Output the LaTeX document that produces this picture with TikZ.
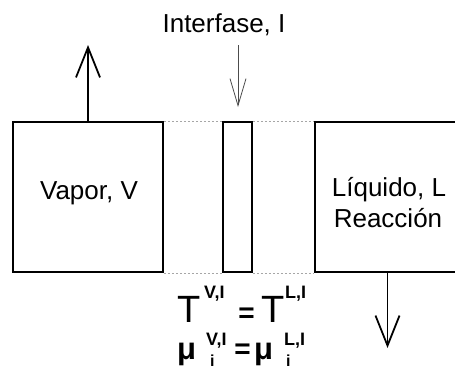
\documentclass[tikz,border=0pt]{standalone}
\usepackage{fontspec}
\setmainfont{Liberation Sans}
\usetikzlibrary{arrows.meta}
\begin{document}
\begin{tikzpicture}[x=1pt,y=-1pt,
  box/.style={draw=black,line width=1.8pt,minimum height=150pt,inner sep=0pt,anchor=center},
  lbl/.style={font=\fontsize{26}{26}\selectfont,anchor=base,inner sep=0pt},
  big/.style={font=\fontsize{38}{38}\selectfont,anchor=base west,inner sep=0pt},
  mu/.style={font=\fontsize{31}{31}\selectfont\bfseries,anchor=base west,inner sep=0pt},
  sup/.style={font=\fontsize{18}{18}\selectfont\bfseries,anchor=base west,inner sep=0pt},
  subi/.style={font=\fontsize{16}{16}\selectfont\bfseries,anchor=base west,inner sep=0pt},
  eqs/.style={font=\fontsize{28}{28}\selectfont\bfseries,anchor=center,inner sep=0pt},
  dotline/.style={draw=gray!70,line width=0.8pt,dash pattern=on 2pt off 2pt},
  flow/.style={line width=1.8pt,-{Straight Barb[length=30pt,width=24pt,line width=1.8pt]}},
  thinflow/.style={draw=black!70,line width=0.8pt,-{Straight Barb[length=27pt,width=16pt,line width=0.8pt]}}
]
\useasboundingbox (0,0) rectangle (455,370);
\clip (0,0) rectangle (455,370);
% boxes
\node[box,minimum width=150pt] (vap) at (88,197) {};
\node[box,minimum width=29pt] (int) at (237.5,197) {};
\node[box,minimum width=145pt] (liq) at (387.5,197) {};
% dotted connections
\draw[dotline] (vap.north east) -- (int.north west);
\draw[dotline] (int.north east) -- (liq.north west);
\draw[dotline] (vap.south east) -- (int.south west);
\draw[dotline] (int.south east) -- (liq.south west);
% labels
\node[lbl] (tint) at (224,32) {Interfase, I};
\node[lbl] (tvap) at (89,199) {Vapor, V};
\node[lbl] (tliq) at (389,196) {Líquido, L};
\node[lbl] (treac) at (388,227) {Reacción};
% arrows
\coordinate (upE) at (88,45);
\draw[flow] (vap.north) -- (upE);
\coordinate (inS) at (238,45);
\coordinate (inE) at (238,107);
\draw[thinflow] (inS) -- (inE);
\coordinate (dnE) at (387.5,348);
\draw[flow] (liq.south) -- (dnE);
% equations line 1
\node[big] (T1) at (177,322) {T};
\node[sup] (s1) at (204,298) {V,I};
\node[eqs] (e1) at (246.5,315) {=};
\node[big] (T2) at (261,322) {T};
\node[sup] (s2) at (285,298) {L,I};
% equations line 2
\node[mu] (m1) at (177,359) {μ};
\node[sup] (s3) at (206,345) {V,I};
\node[subi] (i1) at (210,366) {i};
\node[eqs] (e2) at (242.5,351.5) {=};
\node[mu] (m2) at (254,359) {μ};
\node[sup] (s4) at (284,345) {L,I};
\node[subi] (i2) at (286,366) {i};
\end{tikzpicture}
\end{document}
